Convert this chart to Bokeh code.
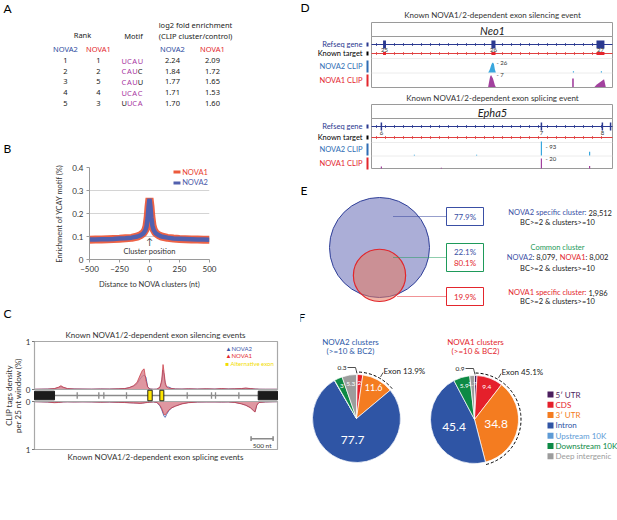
import numpy as np
from bokeh.plotting import figure
from bokeh.layouts import row, column
from bokeh.models import Range1d, FixedTicker, CustomJSTickFormatter
from bokeh.core.properties import value
from bokeh.embed import file_html
from bokeh.resources import INLINE

# ---------------- DATA ----------------
# Panel A: motif table
a_rank_nova2 = [1, 2, 3, 4, 5]
a_rank_nova1 = [1, 2, 5, 4, 3]
a_motifs = ["UCAU", "CAUC", "CAUU", "UCAC", "UUCA"]
a_motif_mask = ["1111", "1110", "1110", "1111", "0111"]
a_enrich_nova2 = [2.24, 1.84, 1.77, 1.71, 1.70]
a_enrich_nova1 = [2.09, 1.72, 1.65, 1.53, 1.60]

# Panel B: YCAY enrichment around clusters
b_dist = [-500, -450, -400, -350, -300, -250, -200, -150, -100, -75, -50, -35, -25, -15, -8, 0,
          8, 15, 25, 35, 50, 75, 100, 150, 200, 250, 300, 350, 400, 450, 500]
b_nova1 = [0.086, 0.087, 0.087, 0.088, 0.089, 0.090, 0.092, 0.094, 0.100, 0.106, 0.115, 0.128, 0.145,
           0.185, 0.230, 0.266, 0.232, 0.188, 0.148, 0.130, 0.116, 0.106, 0.100, 0.094, 0.091, 0.089,
           0.088, 0.087, 0.087, 0.086, 0.086]
b_nova2 = [0.087, 0.087, 0.088, 0.088, 0.089, 0.091, 0.092, 0.095, 0.100, 0.105, 0.114, 0.126, 0.143,
           0.182, 0.228, 0.264, 0.229, 0.184, 0.145, 0.128, 0.115, 0.106, 0.100, 0.095, 0.091, 0.090,
           0.089, 0.088, 0.087, 0.087, 0.086]
b_xticks = [-500, -250, 0, 250, 500]
b_yticks = [0, 0.1, 0.2, 0.3, 0.4]

# Panel C: CLIP density map (nt positions)
c_pos = [0, 150, 300, 450, 550, 600, 650, 750, 900, 1100, 1300, 1500, 1700, 1900, 2050, 2150,
         2250, 2330, 2400, 2450, 2490, 2530, 2570, 2620, 2700, 2780, 2850, 2890, 2920, 2945, 2970, 3000,
         3050, 3120, 3200, 3350, 3500, 3700, 3900, 4100, 4250, 4400, 4550, 4700, 4800, 4900, 4970, 5010,
         5050, 5100, 5250, 5400, 5520]
c_top_nova1 = [0.005, 0.008, 0.01, 0.02, 0.05, 0.08, 0.05, 0.02, 0.012, 0.01, 0.008, 0.012,
               0.01, 0.015, 0.02, 0.04, 0.08, 0.15, 0.30, 0.40, 0.43, 0.20, 0.05, 0.01,
               0.005, 0.008, 0.05, 0.20, 0.52, 0.35, 0.15, 0.06, 0.03, 0.02, 0.012, 0.01,
               0.015, 0.01, 0.015, 0.01, 0.02, 0.012, 0.015, 0.02, 0.03, 0.02, 0.015, 0.01,
               0.01, 0.006, 0.005, 0.005, 0.005]
c_top_nova2 = [0.004, 0.006, 0.008, 0.015, 0.04, 0.06, 0.04, 0.015, 0.01, 0.008, 0.006, 0.01,
               0.008, 0.012, 0.018, 0.035, 0.07, 0.12, 0.22, 0.28, 0.30, 0.26, 0.06, 0.01,
               0.004, 0.006, 0.04, 0.15, 0.40, 0.28, 0.10, 0.05, 0.05, 0.02, 0.01, 0.008,
               0.012, 0.008, 0.012, 0.008, 0.015, 0.01, 0.012, 0.018, 0.025, 0.018, 0.012, 0.008,
               0.008, 0.005, 0.004, 0.004, 0.004]
c_bot_nova1 = [0.004, 0.008, 0.012, 0.025, 0.02, 0.015, 0.01, 0.008, 0.01, 0.008, 0.01, 0.015,
               0.012, 0.018, 0.022, 0.028, 0.032, 0.035, 0.04, 0.035, 0.03, 0.025, 0.02, 0.015,
               0.01, 0.02, 0.08, 0.15, 0.22, 0.27, 0.28, 0.24, 0.18, 0.13, 0.10, 0.05,
               0.025, 0.012, 0.01, 0.01, 0.012, 0.01, 0.02, 0.05, 0.08, 0.13, 0.19, 0.22,
               0.08, 0.02, 0.01, 0.006, 0.004]
c_bot_nova2 = [0.003, 0.006, 0.01, 0.02, 0.015, 0.012, 0.008, 0.006, 0.008, 0.006, 0.008, 0.012,
               0.01, 0.015, 0.018, 0.024, 0.028, 0.03, 0.035, 0.03, 0.026, 0.02, 0.016, 0.012,
               0.008, 0.018, 0.09, 0.17, 0.25, 0.31, 0.33, 0.27, 0.19, 0.13, 0.09, 0.045,
               0.02, 0.01, 0.008, 0.008, 0.01, 0.008, 0.018, 0.045, 0.075, 0.12, 0.18, 0.21,
               0.07, 0.018, 0.008, 0.005, 0.003]
c_const_start = [0, 5082]
c_const_end = [455, 5520]
c_alt_start = [2574, 2847]
c_alt_end = [2674, 2938]
c_intron_marks = [970, 1461, 1575, 2090, 3469, 4021, 4112, 4642]
c_scale_nt = 500
c_region_nt = 5520

# Panel D: genome browser tracks (fraction of track width, read counts)
d_neo1_exon_pos = [0.054, 0.506, 0.950]
d_neo1_exon_w = [0.012, 0.017, 0.033]
d_neo1_exon_num = ["25", "26", "27"]
d_neo1_nova2_peak_pos = [0.484, 0.488, 0.492, 0.496, 0.500, 0.504, 0.508, 0.512, 0.516]
d_neo1_nova2_peak_reads = [0, 4, 10, 18, 24, 26, 22, 8, 0]
d_neo1_nova2_spike_pos = [0.838, 0.954]
d_neo1_nova2_spike_reads = [1, 1]
d_neo1_nova1_peak_pos = [0.484, 0.488, 0.492, 0.496, 0.500, 0.504, 0.508, 0.512, 0.516]
d_neo1_nova1_peak_reads = [0, 3, 6, 7, 6, 5, 3, 1, 0]
d_neo1_nova1_ramp_pos = [0.925, 0.935, 0.945, 0.955, 0.965, 0.972]
d_neo1_nova1_ramp_reads = [0, 1.5, 2.5, 3.5, 4.5, 0]
d_neo1_nova1_spike_pos = [0.836]
d_neo1_nova1_spike_reads = [5]
d_epha5_exon_pos = [0.041, 0.705, 0.958, 0.992]
d_epha5_exon_num = ["6", "7", "8", ""]
d_epha5_nova2_pos = [0.178, 0.436, 0.705, 0.905]
d_epha5_nova2_reads = [2, 2, 93, 25]
d_epha5_nova1_pos = [0.041, 0.290, 0.705, 0.905]
d_epha5_nova1_reads = [4, 1, 20, 5]

# Panel E: cluster overlap
e_nova2_specific = 28512
e_common_nova2 = 8079
e_common_nova1 = 8002
e_nova1_specific = 1986

# Panel F: genomic distribution of clusters (%)
f_categories = ["5\u2032 UTR", "CDS", "3\u2032 UTR", "Intron", "Upstream 10K", "Downstream 10K", "Deep intergenic"]
f_colors = ["#4B1E5E", "#E5202B", "#F47C20", "#2F55A5", "#5E9BD6", "#0D8A45", "#9C9C9C"]
f_nova2 = [0.3, 2.0, 11.6, 77.7, 0.1, 3.0, 5.3]
f_nova1 = [0.9, 9.4, 34.8, 45.4, 0.0, 5.9, 1.7]

# ---------------- STYLE ----------------
FONT = "Lato"
FONT_A = "Noto Sans"
BLUE = "#2C4A9E"
RED = "#E3262D"
PURPLE = "#A8379F"
DARK = "#222222"


def canvas(w, h, x0, x1, ybot, ytop):
    p = figure(width=w, height=h, x_range=Range1d(x0, x1), y_range=Range1d(ybot, ytop),
               output_backend="svg", toolbar_location=None,
               x_axis_location=None, y_axis_location=None, min_border=0, frame_align=False)
    p.grid.visible = False
    p.outline_line_color = None
    return p


def T(p, x, y, s, size=8, color=DARK, align="center", font=FONT, style="normal", baseline="middle", angle=0):
    p.text(x=[x], y=[y], text=[s], text_font=value(font), text_font_size=f"{size}px",
           text_color=color, text_align=align, text_baseline=baseline,
           text_font_style=style, angle=angle)


# ---------------- PANEL A ----------------
pA = canvas(300, 155, 0, 300, 155, 0)
T(pA, 3, 8, "A", 12, "black", "left")
T(pA, 82, 34, "Rank", 7.5, font=FONT_A)
T(pA, 133, 35, "Motif", 7.5, font=FONT_A)
T(pA, 195, 24, "log2 fold enrichment", 7.5, font=FONT_A)
T(pA, 195, 35, "(CLIP cluster/control)", 7.5, font=FONT_A)
T(pA, 65, 48, "NOVA2", 7.5, BLUE, font=FONT_A)
T(pA, 98, 48, "NOVA1", 7.5, RED, font=FONT_A)
T(pA, 172, 48, "NOVA2", 7.5, BLUE, font=FONT_A)
T(pA, 212, 48, "NOVA1", 7.5, RED, font=FONT_A)
for i in range(len(a_motifs)):
    y = 60 + i * 10.7
    T(pA, 65, y, str(a_rank_nova2[i]), 7.5, font=FONT_A)
    T(pA, 98, y, str(a_rank_nova1[i]), 7.5, font=FONT_A)
    for j, (ch, m) in enumerate(zip(a_motifs[i], a_motif_mask[i])):
        T(pA, 121 + j * 5.4, y, ch, 7.5, PURPLE if m == "1" else DARK, "left", FONT_A)
    T(pA, 172, y, f"{a_enrich_nova2[i]:.2f}", 7.5, font=FONT_A)
    T(pA, 212, y, f"{a_enrich_nova1[i]:.2f}", 7.5, font=FONT_A)
T(pA, 3, 148, "B", 12, "black", "left")

# ---------------- PANEL B ----------------
pB = figure(width=300, height=137, x_range=Range1d(-500, 500), y_range=Range1d(0, 0.4),
            output_backend="svg", toolbar_location=None, frame_align=False,
            min_border_left=89, min_border_right=91, min_border_top=12, min_border_bottom=33)
pB.outline_line_color = None
pB.xgrid.visible = False
pB.ygrid.grid_line_color = "#d4d4d4"
pB.xaxis.ticker = FixedTicker(ticks=b_xticks)
pB.yaxis.ticker = FixedTicker(ticks=b_yticks)
pB.yaxis.formatter = CustomJSTickFormatter(code="return tick == 0 ? '0' : tick.toFixed(1);")
for ax in (pB.xaxis, pB.yaxis):
    ax.axis_line_color = "#9a9a9a"
    ax.major_tick_line_color = "#9a9a9a"
    ax.minor_tick_line_color = None
    ax.major_tick_in = 0
    ax.major_tick_out = 3
    ax.major_label_text_font = FONT
    ax.major_label_text_font_size = "8px"
    ax.major_label_text_color = "#333333"
    ax.axis_label_text_font = FONT
    ax.axis_label_text_font_size = "7.5px"
    ax.axis_label_text_font_style = "normal"
    ax.axis_label_text_color = "#333333"
    ax.major_label_standoff = 3
    ax.axis_label_standoff = 5
pB.xaxis.axis_label = "Distance to NOVA clusters (nt)"
pB.yaxis.axis_label = "Enrichment of YCAY motif (%)"
pB.line(b_dist, b_nova1, line_color="#EC5A3C", line_width=8, line_alpha=0.95)
pB.line(b_dist, b_nova2, line_color="#5260AE", line_width=4.5)
pB.segment(x0=[200, 200], y0=[0.380, 0.333], x1=[258, 258], y1=[0.380, 0.333],
           line_color=["#EC5A3C", "#5260AE"], line_width=3)
T(pB, 272, 0.380, "NOVA1", 7.5, "#E8402F", "left")
T(pB, 272, 0.333, "NOVA2", 7.5, "#4A58A8", "left")
T(pB, 0, 0.077, "\u2191", 9, "#333333")
T(pB, 0, 0.034, "Cluster position", 7.5, "#333333")

# ---------------- PANEL C ----------------
# canvas whose frame is the whole panel; region 0..c_region_nt spans 243 px starting 34 px from left
G = 0.125
NT_PX = c_region_nt / 243.0
PX_U = 48.0
pC = canvas(300, 228, -34 * NT_PX, 266 * NT_PX, 1 + G - (520 - 341) / PX_U, 1 + G + (341 - 292) / PX_U)
top2 = [G + v for v in c_top_nova2]
top1 = [G + v for v in c_top_nova1]
bot2 = [-G - v for v in c_bot_nova2]
bot1 = [-G - v for v in c_bot_nova1]
pC.line(c_pos, top2, line_color="#4A67B2", line_width=0.9)
pC.line(c_pos, bot2, line_color="#4A67B2", line_width=0.9)
pC.varea(x=c_pos, y1=[G] * len(c_pos), y2=top1, fill_color="#D77D8A", fill_alpha=0.8)
pC.varea(x=c_pos, y1=[-G] * len(c_pos), y2=bot1, fill_color="#D77D8A", fill_alpha=0.8)
pC.line(c_pos, top1, line_color="#C8323C", line_width=0.7)
pC.line(c_pos, bot1, line_color="#C8323C", line_width=0.7)
pC.quad(left=[0, 0], right=[c_region_nt] * 2, bottom=[G, -1 - G], top=[1 + G, -G],
        fill_color=None, line_color="#a8a8a8", line_width=1.2)
# y axis (0 / 1 for each half)
ytk = [1 + G, G, -G, -1 - G]
pC.segment(x0=[-2.5 * NT_PX] * 4, y0=ytk, x1=[0] * 4, y1=ytk, line_color="#777777", line_width=1)
for yv, lab in zip(ytk, ["1", "0", "0", "1"]):
    T(pC, -4 * NT_PX, yv, lab, 8, "#333333", "right")
T(pC, -26 * NT_PX, 0, "CLIP tags density", 8, "#333333", angle=np.pi / 2)
T(pC, -17 * NT_PX, 0, "per 25 nt window (%)", 8, "#333333", angle=np.pi / 2)
# gene structure
pC.segment(x0=[c_const_end[0]], y0=[0], x1=[c_const_start[1]], y1=[0], line_color="#8a8a8a", line_width=1.4)
pC.segment(x0=c_intron_marks, y0=[-0.07] * len(c_intron_marks), x1=c_intron_marks,
           y1=[0.07] * len(c_intron_marks), line_color="#8a8a8a", line_width=1.3)
pC.quad(left=c_const_start, right=c_const_end, bottom=[-0.09] * 2, top=[0.09] * 2,
        fill_color="#1c1c1c", line_color="#1c1c1c")
pC.quad(left=c_alt_start, right=c_alt_end, bottom=[-0.11] * 2, top=[0.11] * 2,
        fill_color="#FFE600", line_color="#222222", line_width=1)
# scale bar
sb1 = c_region_nt - 100
sb0 = sb1 - c_scale_nt
pC.segment(x0=[sb0, sb0, sb1], y0=[-0.90, -0.85, -0.85], x1=[sb1, sb0, sb1], y1=[-0.90, -0.95, -0.95],
           line_color="#8a8a8a", line_width=1.6)
T(pC, (sb0 + sb1) / 2, -1.04, f"{c_scale_nt} nt", 6.5, "#333333")
# legend
T(pC, 191 * NT_PX, 0.976, "\u25B2NOVA2", 6, "#3C57A8", "left")
T(pC, 191 * NT_PX, 0.827, "\u25B2NOVA1", 6, "#E3262D", "left")
T(pC, 191 * NT_PX, 0.657, "\u25A0 Alternative exon", 6, "#F2DC00", "left")
T(pC, -31 * NT_PX, 1 + G + (341 - 313) / PX_U, "C", 12, "black", "left")
T(pC, 121 * NT_PX, 1 + G + 7 / PX_U, "Known NOVA1/2-dependent exon silencing events", 8, "#333333")
T(pC, 121 * NT_PX, -1 - G - 7 / PX_U, "Known NOVA1/2-dependent exon splicing events", 8, "#333333")

# ---------------- PANEL D ----------------
pD = canvas(317, 172, 300, 617, 172, 0)
TR0, TR1 = 371.0, 612.0


def trk(f):
    return TR0 + f * (TR1 - TR0)


T(pD, 300, 7, "D", 12, "black", "left")
pD.quad(left=[TR0] * 4, right=[TR1] * 4, top=[22, 36, 104, 118], bottom=[36, 87, 118, 168],
        fill_color=None, line_color="#9a9a9a", line_width=1)
T(pD, 492, 14, "Known NOVA1/2-dependent exon silencing event", 8, "#333333")
T(pD, 492, 97, "Known NOVA1/2-dependent exon splicing event", 8, "#333333")
T(pD, 492, 29.5, "Neo1", 11, "#222222", style="italic")
T(pD, 492, 111.5, "Epha5", 11, "#222222", style="italic")

REF_C = "#2B3990"
N2_C = "#2E6DB4"
CLIP2 = "#39A7DE"
CLIP1 = "#A2419E"
for rows in ([44, 53, 66, 80], [126, 137, 149, 163]):
    T(pD, 362, rows[0], "Refseq gene", 7.5, REF_C, "right")
    T(pD, 362, rows[1], "Known target", 7.5, "black", "right")
    T(pD, 362, rows[2], "NOVA2 CLIP", 7.5, N2_C, "right")
    T(pD, 362, rows[3], "NOVA1 CLIP", 7.5, RED, "right")
    pD.quad(left=[366] * 4, right=[368] * 4,
            top=[rows[0] - 2, rows[1] - 2, rows[2] - 6, rows[3] - 6],
            bottom=[rows[0] + 2, rows[1] + 2, rows[2] + 6, rows[3] + 6],
            fill_color=[REF_C, "black", N2_C, RED], line_color=None)
    pD.segment(x0=[TR0, TR0], y0=[rows[0], rows[1]], x1=[TR1, TR1], y1=[rows[0], rows[1]],
               line_color=[REF_C, "#E04040"], line_width=1)
    tick_x = list(np.arange(TR0 + 5, TR1 - 2, 9.0))
    pD.scatter(x=tick_x, y=[rows[0]] * len(tick_x), marker="dash", angle=np.pi / 2, size=3,
               line_color=REF_C, line_width=0.8)
    pD.scatter(x=tick_x, y=[rows[1]] * len(tick_x), marker="dash", angle=np.pi / 2, size=3,
               line_color="#E04040", line_width=0.8)
    pD.segment(x0=[TR0, TR0], y0=[rows[1] + 5, rows[2] + 6.5], x1=[TR1, TR1], y1=[rows[1] + 5, rows[2] + 6.5],
               line_color="#cfcfcf", line_width=0.8, line_dash="1 1")

# Neo1 gene models
nl = [trk(f - w / 2) for f, w in zip(d_neo1_exon_pos, d_neo1_exon_w)]
nr = [trk(f + w / 2) for f, w in zip(d_neo1_exon_pos, d_neo1_exon_w)]
pD.quad(left=nl, right=nr, top=[40] * 3, bottom=[48] * 3, fill_color=REF_C, line_color=None)
pD.quad(left=nl, right=nr, top=[51.5] * 3, bottom=[54.5] * 3, fill_color="#E5262D", line_color=None)
for f, s in zip(d_neo1_exon_pos, d_neo1_exon_num):
    T(pD, trk(f), 49.5, s, 6, "#333333")
# Neo1 CLIP
pD.varea(x=[trk(f) for f in d_neo1_nova2_peak_pos], y1=[72] * len(d_neo1_nova2_peak_pos),
         y2=[72 - r * 10 / 26 for r in d_neo1_nova2_peak_reads], fill_color=CLIP2)
pD.segment(x0=[trk(f) for f in d_neo1_nova2_spike_pos], y0=[72] * 2,
           x1=[trk(f) for f in d_neo1_nova2_spike_pos], y1=[72 - max(r * 10 / 26, 1.2) for r in d_neo1_nova2_spike_reads],
           line_color=CLIP2, line_width=1.2)
pD.varea(x=[trk(f) for f in d_neo1_nova1_peak_pos], y1=[86.5] * len(d_neo1_nova1_peak_pos),
         y2=[86.5 - r * 12 / 7 for r in d_neo1_nova1_peak_reads], fill_color=CLIP1)
pD.varea(x=[trk(f) for f in d_neo1_nova1_ramp_pos], y1=[86.5] * len(d_neo1_nova1_ramp_pos),
         y2=[86.5 - r * 12 / 7 for r in d_neo1_nova1_ramp_reads], fill_color=CLIP1)
pD.segment(x0=[trk(f) for f in d_neo1_nova1_spike_pos], y0=[86.5],
           x1=[trk(f) for f in d_neo1_nova1_spike_pos], y1=[86.5 - r * 12 / 7 for r in d_neo1_nova1_spike_reads],
           line_color=CLIP1, line_width=1.6)
T(pD, 496, 61.5, f"- {max(d_neo1_nova2_peak_reads)}", 6, "#333333", "left")
T(pD, 496, 73.5, f"- {max(d_neo1_nova1_peak_reads)}", 6, "#333333", "left")

# Epha5 gene model
ex = [trk(f) for f in d_epha5_exon_pos]
pD.segment(x0=ex, y0=[122] * 4, x1=ex, y1=[130] * 4, line_color=REF_C, line_width=1.5)
for f, s in zip(d_epha5_exon_pos, d_epha5_exon_num):
    T(pD, trk(f), 132, s, 6, "#333333")
pD.segment(x0=[trk(f) for f in d_epha5_nova2_pos], y0=[155] * 4,
           x1=[trk(f) for f in d_epha5_nova2_pos], y1=[155 - max(r * 14 / 93, 0.8) for r in d_epha5_nova2_reads],
           line_color=CLIP2, line_width=1.2)
pD.segment(x0=[trk(f) for f in d_epha5_nova1_pos], y0=[168] * 4,
           x1=[trk(f) for f in d_epha5_nova1_pos], y1=[168 - max(r * 10 / 20, 0.8) for r in d_epha5_nova1_reads],
           line_color=CLIP1, line_width=1.2)
T(pD, 545, 146, f"- {max(d_epha5_nova2_reads)}", 6, "#333333", "left")
T(pD, 545, 157.5, f"- {max(d_epha5_nova1_reads)}", 6, "#333333", "left")

# ---------------- PANEL E ----------------
pE = canvas(317, 136, 300, 617, 308, 172)
T(pE, 300, 190, "E", 12, "black", "left")
tot2 = e_nova2_specific + e_common_nova2
tot1 = e_nova1_specific + e_common_nova1
R2 = 50.0
R1 = R2 * np.sqrt(tot1 / tot2)
pE.circle(x=[379], y=[247], radius=R2, fill_color="#ABAED7", line_color="#2F3F98", line_width=1)
pE.circle(x=[379], y=[301 - R1], radius=R1, fill_color="#E6785F", fill_alpha=0.55,
          line_color="#E2262B", line_width=1.2)
GREEN = "#1E9A5A"
pE.segment(x0=[393, 393, 397], y0=[216, 257, 296], x1=[446, 446, 446], y1=[216, 257, 296],
           line_color=["#2F3F98", GREEN, RED], line_width=1, line_dash="1 1")
pE.quad(left=[446] * 3, right=[483] * 3, top=[207, 243, 287], bottom=[225, 271, 305],
        fill_color="white", line_color=["#3A4FA5", GREEN, RED], line_width=1)
T(pE, 464.5, 216, f"{100 * e_nova2_specific / tot2:.1f}%", 8, "#3A4FA5")
T(pE, 464.5, 251, f"{100 * e_common_nova2 / tot2:.1f}%", 8, "#3A4FA5")
T(pE, 464.5, 262, f"{100 * e_common_nova1 / tot1:.1f}%", 8, RED)
T(pE, 464.5, 296, f"{100 * e_nova1_specific / tot1:.1f}%", 8, RED)
T(pE, 586, 212, "NOVA2 specific cluster:", 7.5, "#3A4FA5", "right")
T(pE, 588, 212, f"{e_nova2_specific:,}", 7.5, DARK, "left")
T(pE, 557, 222, "BC>=2 & clusters>=10", 7.5, DARK)
T(pE, 557, 247, "Common cluster", 7.5, GREEN)
T(pE, 532, 257, "NOVA2", 7.5, "#3A4FA5", "right")
T(pE, 532, 257, f": {e_common_nova2:,}, ", 7.5, DARK, "left")
T(pE, 585, 257, "NOVA1", 7.5, RED, "right")
T(pE, 585, 257, f": {e_common_nova1:,}", 7.5, DARK, "left")
T(pE, 557, 268, "BC>=2 & clusters>=10", 7.5, DARK)
T(pE, 586, 292, "NOVA1 specific cluster:", 7.5, RED, "right")
T(pE, 588, 292, f"{e_nova1_specific:,}", 7.5, DARK, "left")
T(pE, 557, 301, "BC>=2 & clusters>=10", 7.5, DARK)

# ---------------- PANEL F ----------------
pF = canvas(317, 212, 300, 617, 0, 212)


def Y(y):
    return 520 - y


T(pF, 298, Y(317), "F", 12, "black", "left")
RP = 44.0


def pie(p, cx, cy, vals, title, tcolor, big_font, tx):
    tot = sum(vals)
    starts, ends, cols, mids = [], [], [], []
    cum = 0.0
    for v, c in zip(vals, f_colors):
        a0 = np.pi / 2 - 2 * np.pi * cum / tot
        mid = np.pi / 2 - 2 * np.pi * (cum + v / 2) / tot
        cum += v
        a1 = np.pi / 2 - 2 * np.pi * cum / tot
        mids.append(mid)
        if v > 0:
            starts.append(a1)
            ends.append(a0)
            cols.append(c)
    p.wedge(x=cx, y=cy, radius=RP, start_angle=starts, end_angle=ends,
            fill_color=cols, line_color="white", line_width=0.7)
    for v, m in zip(vals, mids):
        if v >= 1:
            kr = 0.5 if v >= 20 else 0.8
            fs = big_font if v >= 20 else (9 if v >= 10 else 6.5)
            T(p, cx + kr * RP * np.cos(m), cy + kr * RP * np.sin(m), f"{v:g}", fs, "white")
    # leader label for the first (smallest) slice
    T(p, cx - 10, cy + RP + 7, f"{vals[0]:g}", 6.5, DARK, "right")
    p.line(x=[cx - 9, cx - 1, cx + 0.5], y=[cy + RP + 7, cy + RP + 7, cy + RP + 1],
           line_color=DARK, line_width=0.8)
    exon = sum(vals[:3])
    a_end = np.pi / 2 - 2 * np.pi * exon / tot
    p.arc(x=cx, y=cy, radius=RP + 2.5, start_angle=a_end, end_angle=np.pi / 2,
          line_color="black", line_width=1, line_dash="3 2")
    la = np.pi / 2 - np.radians(30)
    p.segment(x0=[cx + (RP + 4) * np.cos(la)], y0=[cy + (RP + 4) * np.sin(la)],
              x1=[cx + (RP + 9) * np.cos(la)], y1=[cy + (RP + 9) * np.sin(la)],
              line_color=DARK, line_width=0.8)
    T(p, cx + (RP + 10) * np.cos(la), cy + (RP + 11) * np.sin(la), f"Exon {exon:.1f}%", 8, DARK, "left")
    T(p, tx, Y(341), title, 8, tcolor)
    T(p, tx, Y(350), "(>=10 & BC2)", 8, tcolor)


pie(pF, 356, Y(418), f_nova2, "NOVA2 clusters", "#2E5AA8", 12, 350)
pie(pF, 474, Y(419), f_nova1, "NOVA1 clusters", RED, 12, 475)

leg_y = [Y(394 + 10.3 * i) for i in range(len(f_categories))]
pF.scatter(x=[550] * len(f_categories), y=leg_y, marker="square", size=6,
           fill_color=f_colors, line_color=None)
for yy, name, c in zip(leg_y, f_categories, f_colors):
    T(pF, 555, yy, name, 8, c, "left")

layout = row(column(pA, pB, pC), column(pD, pE, pF))
open("out.html", "w").write(file_html(layout, INLINE))
